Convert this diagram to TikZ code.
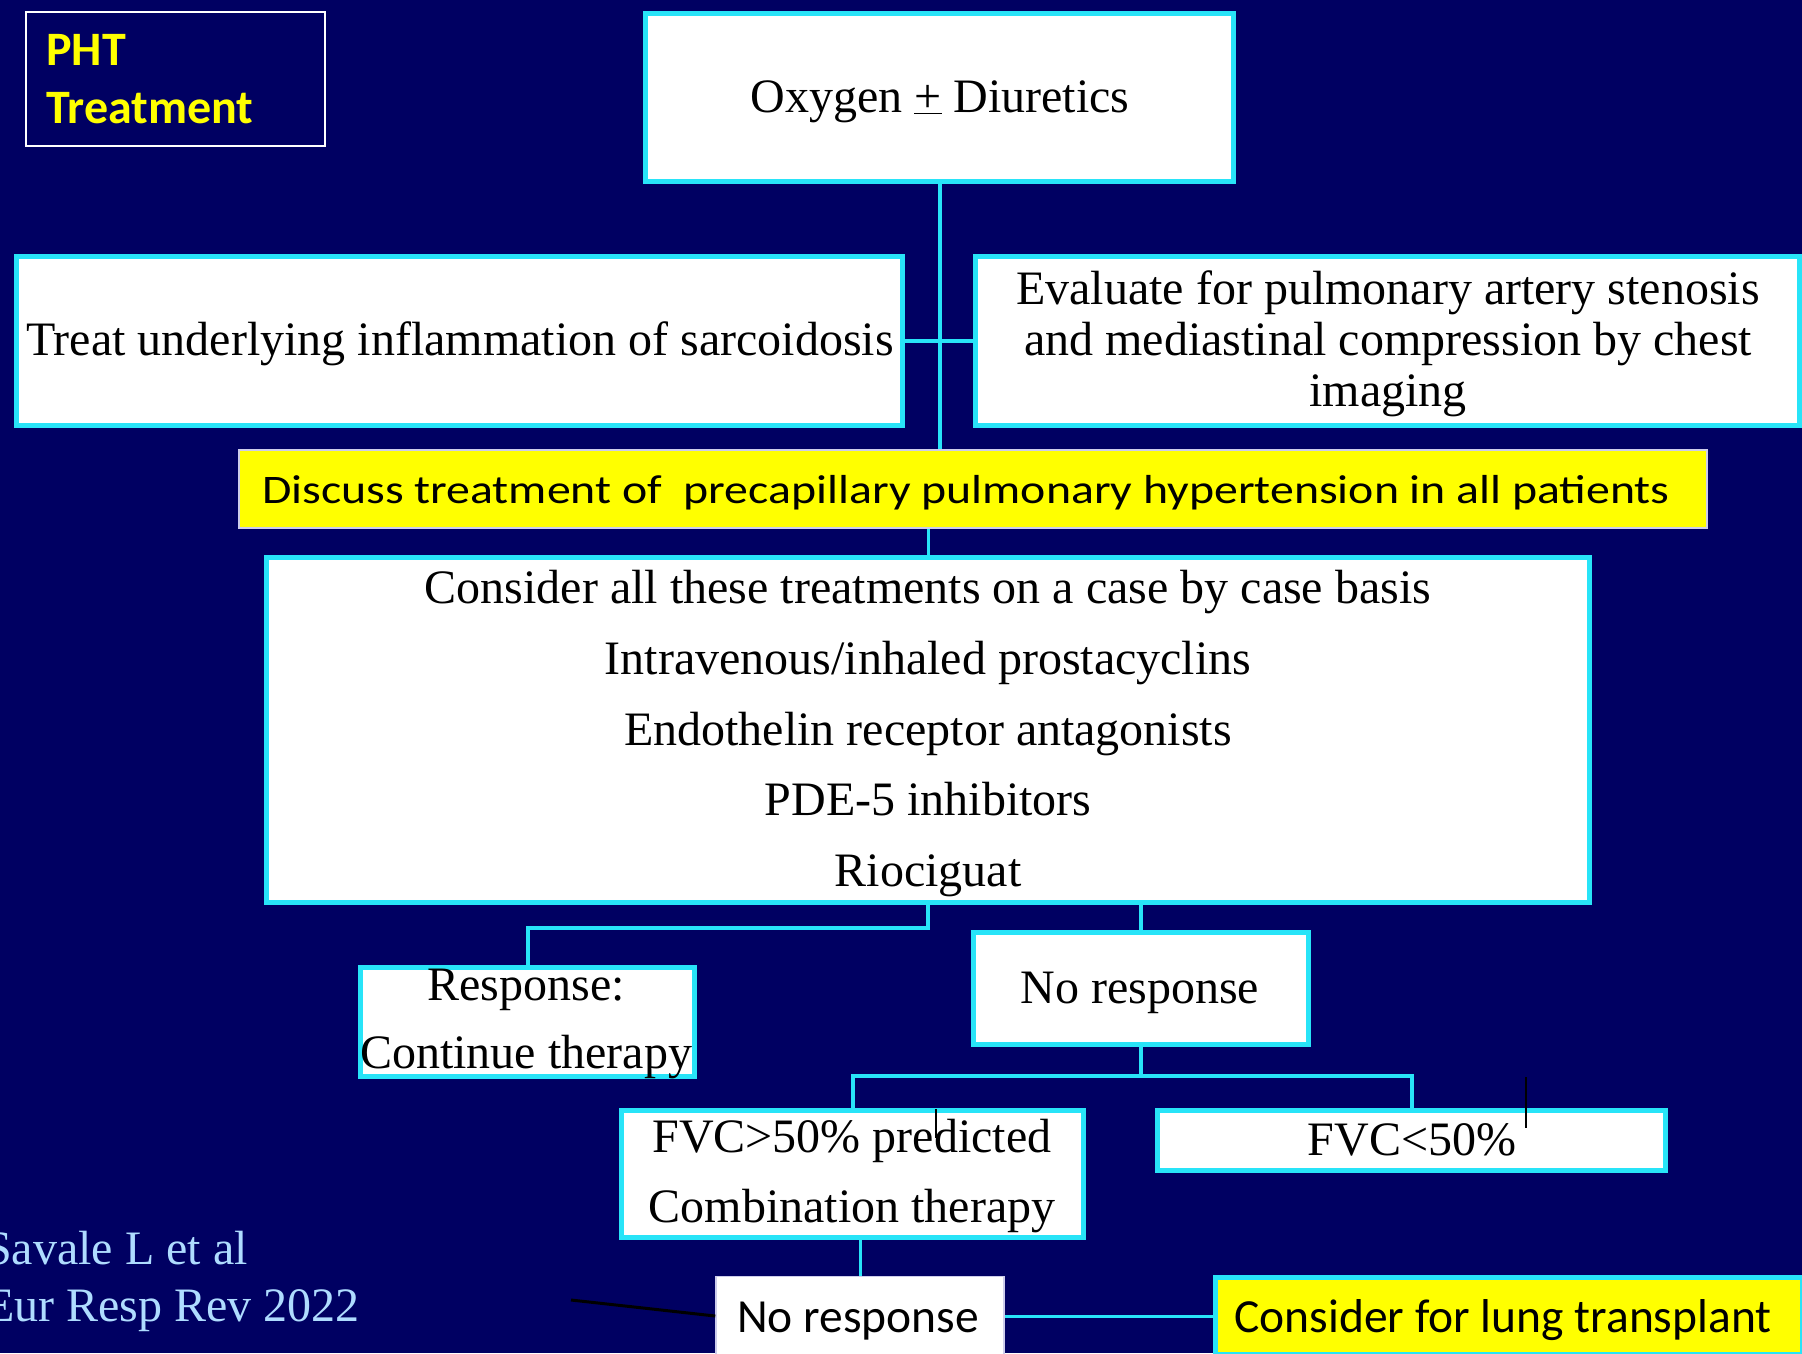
\documentclass[tikz,border=0pt]{standalone}
\usepackage{fontspec}
\setmainfont{Liberation Serif}
\newfontfamily\calfont{Carlito}
\newfontfamily\calwide[FakeStretch=1.18]{Carlito}
\definecolor{navy}{RGB}{0,0,98}
\definecolor{cyanb}{RGB}{40,228,248}
\definecolor{yel}{RGB}{255,255,0}
\definecolor{citeblue}{RGB}{175,220,255}
\definecolor{lav}{RGB}{205,205,235}
\tikzset{
  box/.style={rectangle, draw=cyanb, line width=5pt, fill=white, inner sep=0pt},
  txt/.style={font=\fontsize{48}{56}\selectfont, text=black, inner sep=0pt, anchor=base},
  ctxt/.style={font=\calfont\fontsize{47.5}{56}\selectfont, text=black, inner sep=0pt, anchor=base},
  cite/.style={font=\fontsize{48}{56}\selectfont, text=citeblue, inner sep=0pt, anchor=base west},
  pht/.style={font=\calfont\bfseries\fontsize{48}{56}\selectfont, text=yel, inner sep=0pt, anchor=base west},
  conn/.style={draw=cyanb, line width=4pt},
  thinconn/.style={draw=cyanb, line width=3pt},
  stray/.style={draw=black, line width=1.5pt}
}
\begin{document}
\begin{tikzpicture}[x=1pt,y=-1pt]
\useasboundingbox (0,0) rectangle (1802,1353);
\fill[navy] (0,0) rectangle (1802,1353);
\clip (0,0) rectangle (1802,1353);

% title box
\node[rectangle, draw=white, line width=2pt, inner sep=0pt, minimum width=299pt, minimum height=134pt] (pht) at (175.5,79) {};
\node[pht] (phtA) at (46,65) {PHT};
\node[pht] (phtB) at (46,123) {Treatment};

% boxes
\node[box, minimum width=588pt, minimum height=168pt] (oxy) at (939.5,97.5) {};
\node[box, minimum width=886pt, minimum height=169pt] (left) at (459.5,341) {};
\node[box, minimum width=824pt, minimum height=169pt] (right) at (1387.5,341) {};
\node[rectangle, draw=lav, line width=2pt, fill=yel, inner sep=0pt, minimum width=1468pt, minimum height=78pt] (disc) at (973,489) {};
\node[box, minimum width=1323pt, minimum height=345pt] (big) at (928,730) {};
\node[box, minimum width=334pt, minimum height=109pt] (resp) at (527.5,1022) {};
\node[box, minimum width=335pt, minimum height=112pt] (nr) at (1141,988.5) {};
\node[box, minimum width=462pt, minimum height=127pt] (fvcA) at (852.5,1174) {};
\node[box, minimum width=508pt, minimum height=60pt] (fvcB) at (1411.5,1140.5) {};
\node[rectangle, draw=lav, line width=1.5pt, fill=white, inner sep=0pt, minimum width=288pt, minimum height=79pt] (nrB) at (860,1316) {};
\node[box, fill=yel, minimum width=587pt, minimum height=77pt] (cons) at (1509,1316) {};

% texts
\node[txt] (oxyT) at (940,112) {Oxygen \underline{+} Diuretics};
\node[txt] (leftT) at (460,355) {Treat underlying inflammation of sarcoidosis};
\node[txt] (rightA) at (1388,304) {Evaluate for pulmonary artery stenosis};
\node[txt] (rightB) at (1388,355) {and mediastinal compression by chest};
\node[txt] (rightC) at (1388,406) {imaging};
\node[font=\calwide\fontsize{40.5}{48}\selectfont, text=black, inner sep=0pt, anchor=base] (discT) at (966,503) {Discuss treatment of\ \ precapillary pulmonary hypertension in all patients};
\node[txt] (bigA) at (928,603) {Consider all these treatments on a case by case basis};
\node[txt] (bigB) at (928,674) {Intravenous/inhaled prostacyclins};
\node[txt] (bigC) at (928,745) {Endothelin receptor antagonists};
\node[txt] (bigD) at (928,815) {PDE-5 inhibitors};
\node[txt] (bigE) at (928,886) {Riociguat};
\node[txt] (respA) at (526,1000) {Response:};
\node[txt] (respB) at (526,1068) {Continue therapy};
\node[txt] (nrT) at (1140,1003) {No response};
\node[txt] (fvcAa) at (852,1152) {FVC>50\% predicted};
\node[txt] (fvcAb) at (852,1222) {Combination therapy};
\node[txt] (fvcBT) at (1412,1155) {FVC<50\%};
\node[ctxt] (nrBT) at (858,1332) {No response};
\node[ctxt] (consT) at (1503,1332) {Consider for lung transplant};

% citation
\node[cite] (citeA) at (-15,1264) {Savale L et al};
\node[cite] (citeB) at (-15,1321) {Eur Resp Rev 2022};

% connectors
\draw[conn] (oxy.south) -- (oxy.south |- disc.north);
\draw[conn] (left.east) -- (right.west);
\draw[thinconn] (big.north |- disc.south) -- (big.north);
\draw[conn] (big.south) -- ++(0,23) -| (resp.north);
\draw[conn] (nr.north |- big.south) -- (nr.north);
\draw[conn] (nr.south) -- ++(0,29) coordinate (split);
\draw[conn] (fvcA.north) |- (split) -| (fvcB.north);
\draw[thinconn] (nrB.north |- fvcA.south) -- (nrB.north);
\draw[thinconn] (nrB.east) -- (cons.west);

% stray marks
\coordinate (strayEnd) at (571,1300);
\draw[draw=black, line width=3pt] (strayEnd) -- (nrB.west);
\coordinate (tickA) at (1526,1077);
\coordinate (tickB) at (1526,1128);
\draw[stray] (tickA) -- (tickB);
\coordinate (tickC) at (936,1109);
\coordinate (tickD) at (936,1138);
\draw[stray] (tickC) -- (tickD);
\end{tikzpicture}
\end{document}
